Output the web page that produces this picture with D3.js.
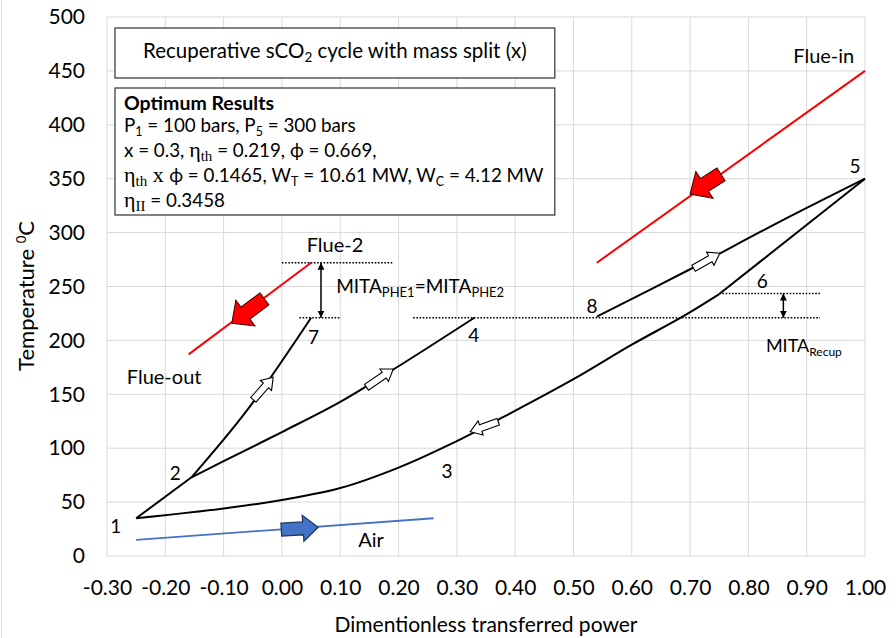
<!DOCTYPE html>
<html>
<head>
<meta charset="utf-8">
<script src="https://cdn.jsdelivr.net/npm/d3@7"></script>
<style>
  body { margin: 0; background: #fff; }
  svg { display: block; font-family: Lato, "Open Sans", sans-serif; }
</style>
</head>
<body>
<div id="chart"></div>
<script>
// axis ticks
const xTicks = [-0.3, -0.2, -0.1, 0, 0.1, 0.2, 0.3, 0.4, 0.5, 0.6, 0.7, 0.8, 0.9, 1.0];
const yTicks = [0, 50, 100, 150, 200, 250, 300, 350, 400, 450, 500];

// sCO2 streams [power, temperature]
const turbineOut56 = [[1.0, 350], [0.75, 243]];
const recupHot61 = [[0.75, 243], [0.69, 223], [0.6, 196], [0.5, 164], [0.38, 129],
  [0.29, 104], [0.2, 82], [0.1, 63], [0, 52], [-0.1, 44], [-0.25, 35]];
const comp12 = [[-0.25, 35], [-0.155, 73]];
const branch27 = [[-0.155, 73], [-0.06, 135], [0.05, 221]];
const branch24 = [[-0.155, 73], [-0.1, 88], [0, 115], [0.1, 143], [0.2, 176], [0.33, 221]];
const heater85 = [[0.54, 222], [0.7, 266], [0.85, 309], [1.0, 350]];

// flue gas and air
const flueIn = [[0.54, 272], [1.0, 450]];
const flueOut = [[-0.16, 187], [0.05, 272]];
const air = [[-0.25, 15], [0.26, 35]];

// dotted pinch levels [x0, x1, T]
const levels = [[0.0, 0.19, 272], [0.03, 0.10, 221], [0.225, 0.923, 221], [0.75, 0.923, 243.5]];
// double arrows [x, T0, T1]
const gaps = [[0.067, 272, 221], [0.86, 243.5, 221]];

// block arrows [xTail, TTail, xTip, TTip]
const hollowArrows = [[-0.049, 144.9, -0.015, 165.9], [0.145, 156.5, 0.191, 173.5],
  [0.371, 124.6, 0.323, 115.3], [0.706, 266.9, 0.751, 280.8]];
const flueArrows = [[0.753, 354, 0.70, 335.8], [-0.030, 238.5, -0.086, 215.9]];
const airArrows = [[-0.001, 24.4, 0.062, 26.6]];

const pointLabels = [["1", -0.285, 21], ["2", -0.183, 70.5], ["3", 0.283, 72.4], ["4", 0.329, 198.8],
  ["5", 0.983, 355], ["6", 0.824, 249], ["7", 0.054, 196.7], ["8", 0.532, 225]];
const streamLabels = [["Flue-in", 0.877, 457.5], ["Flue-2", 0.0425, 282.3], ["Flue-out", -0.266, 160], ["Air", 0.131, 8.6]];

const width = 896, height = 638;
const marginLeft = 107, marginRight = 31, marginTop = 17, marginBottom = 82;

const svg = d3.select("#chart").append("svg")
  .attr("width", width)
  .attr("height", height)
  .attr("viewBox", [0, 0, width, height]);

const x = d3.scaleLinear().domain([-0.3, 1.0]).range([marginLeft, width - marginRight]);
const y = d3.scaleLinear().domain([0, 500]).range([height - marginBottom, marginTop]);

svg.append("line")
  .attr("x1", 1.5).attr("x2", 1.5).attr("y1", 0).attr("y2", height)
  .attr("stroke", "#d9d9d9");

// grid
svg.append("g").attr("stroke", "#d9d9d9").attr("stroke-width", 1)
  .selectAll("line").data(xTicks).join("line")
  .attr("x1", d => x(d)).attr("x2", d => x(d))
  .attr("y1", y(0)).attr("y2", y(500));
svg.append("g").attr("stroke", "#d9d9d9").attr("stroke-width", 1)
  .selectAll("line").data(yTicks).join("line")
  .attr("x1", x(-0.3)).attr("x2", x(1.0))
  .attr("y1", d => y(d)).attr("y2", d => y(d));

// axes
const xAxis = svg.append("g")
  .attr("transform", `translate(0,${y(0)})`)
  .call(d3.axisBottom(x).tickValues(xTicks).tickFormat(d => d.toFixed(2)).tickSize(0).tickPadding(24));
const yAxis = svg.append("g")
  .attr("transform", `translate(${x(-0.3)},0)`)
  .call(d3.axisLeft(y).tickValues(yTicks).tickFormat(d => d).tickSize(0).tickPadding(22));
[xAxis, yAxis].forEach(a => {
  a.select(".domain").remove();
  a.selectAll("text").attr("font-family", "Lato").attr("font-size", 21).attr("fill", "#000");
});

svg.append("text")
  .attr("x", (x(-0.3) + x(1.0)) / 2).attr("y", 632)
  .attr("text-anchor", "middle").attr("font-size", 21)
  .text("Dimentionless transferred power");

const yTitle = svg.append("text")
  .attr("transform", "translate(34,296) rotate(-90)")
  .attr("text-anchor", "middle").attr("font-size", 22);
yTitle.append("tspan").text("Temperature ");
yTitle.append("tspan").attr("font-size", 13).attr("dy", -8).text("0");
yTitle.append("tspan").attr("dy", 8).text("C");

// lines
const line = d3.line().x(d => x(d[0])).y(d => y(d[1]));
const smooth = d3.line().x(d => x(d[0])).y(d => y(d[1])).curve(d3.curveCatmullRom);

svg.append("path").datum(air).attr("d", line).attr("fill", "none").attr("stroke", "#4472c4").attr("stroke-width", 1.8);
[flueIn, flueOut].forEach(s => {
  svg.append("path").datum(s).attr("d", line).attr("fill", "none").attr("stroke", "#ff0000").attr("stroke-width", 2);
});
[turbineOut56, recupHot61, comp12, branch27, branch24, heater85].forEach(s => {
  svg.append("path").datum(s).attr("d", smooth).attr("fill", "none").attr("stroke", "#000").attr("stroke-width", 2);
});

// dotted levels
svg.append("g").selectAll("line").data(levels).join("line")
  .attr("x1", d => x(d[0])).attr("x2", d => x(d[1]))
  .attr("y1", d => y(d[2])).attr("y2", d => y(d[2]))
  .attr("stroke", "#000").attr("stroke-width", 1.6).attr("stroke-dasharray", "1.6,1.6");

// double arrows
const defs = svg.append("defs");
defs.append("marker").attr("id", "tri")
  .attr("viewBox", "0 0 10 10").attr("refX", 10).attr("refY", 5)
  .attr("markerWidth", 7).attr("markerHeight", 7).attr("markerUnits", "userSpaceOnUse")
  .attr("orient", "auto-start-reverse")
  .append("path").attr("d", "M0,0L10,5L0,10Z").attr("fill", "#000");
svg.append("g").selectAll("line").data(gaps).join("line")
  .attr("x1", d => x(d[0])).attr("x2", d => x(d[0]))
  .attr("y1", d => y(d[1])).attr("y2", d => y(d[2]))
  .attr("stroke", "#000").attr("stroke-width", 1.5)
  .attr("marker-start", "url(#tri)").attr("marker-end", "url(#tri)");

// block arrows
function blockArrow(d, shaft, head, headLen) {
  const x0 = x(d[0]), y0 = y(d[1]), x1 = x(d[2]), y1 = y(d[3]);
  const L = Math.hypot(x1 - x0, y1 - y0);
  const a = Math.atan2(y1 - y0, x1 - x0) * 180 / Math.PI;
  const pts = [[0, -shaft / 2], [L - headLen, -shaft / 2], [L - headLen, -head / 2], [L, 0],
    [L - headLen, head / 2], [L - headLen, shaft / 2], [0, shaft / 2]];
  return { pts: pts.map(p => p.join(",")).join(" "), t: `translate(${x0},${y0}) rotate(${a})` };
}
function drawArrows(data, shaft, head, headLen, fill, stroke, sw) {
  svg.append("g").selectAll("polygon").data(data).join("polygon")
    .each(function (d) {
      const b = blockArrow(d, shaft, head, headLen);
      d3.select(this).attr("points", b.pts).attr("transform", b.t);
    })
    .attr("fill", fill).attr("stroke", stroke).attr("stroke-width", sw).attr("stroke-linejoin", "miter");
}
drawArrows(hollowArrows, 7, 15, 11, "#fff", "#000", 1.1);
drawArrows(flueArrows, 15, 32, 17, "#ff0000", "#3a0000", 1);
drawArrows(airArrows, 13, 26, 15, "#4472c4", "#1f3864", 1.3);

// labels
svg.append("g").selectAll("text").data(pointLabels).join("text")
  .attr("x", d => x(d[1])).attr("y", d => y(d[2]))
  .attr("text-anchor", "middle").attr("font-size", 19).text(d => d[0]);
svg.append("g").selectAll("text").data(streamLabels).join("text")
  .attr("x", d => x(d[1])).attr("y", d => y(d[2]))
  .attr("font-size", 20).text(d => d[0]);

function subText(xv, yv, parts, size, subSize) {
  const t = svg.append("text").attr("x", x(xv)).attr("y", y(yv)).attr("font-size", size);
  parts.forEach(p => {
    if (p.sub) t.append("tspan").attr("font-size", subSize).attr("dy", 4).text(p.s);
    else t.append("tspan").attr("dy", p.after ? -4 : 0).text(p.s);
  });
}
subText(0.093, 243.7, [{ s: "MITA" }, { s: "PHE1", sub: true }, { s: "=MITA", after: true }, { s: "PHE2", sub: true }], 19, 13);
subText(0.83, 189.5, [{ s: "MITA" }, { s: "Recup", sub: true }], 18, 12);

// title box
const bx0 = x(-0.3) + 8, bx1 = x(0.468);
svg.append("rect").attr("x", bx0).attr("y", 28).attr("width", bx1 - bx0).attr("height", 50)
  .attr("fill", "#fff").attr("stroke", "#404040").attr("stroke-width", 1.3);
const tt = svg.append("text").attr("x", (bx0 + bx1) / 2).attr("y", 58).attr("text-anchor", "middle").attr("font-size", 20.5);
tt.append("tspan").text("Recuperative sCO");
tt.append("tspan").attr("font-size", 13.5).attr("dy", 4).text("2");
tt.append("tspan").attr("dy", -4).text(" cycle with mass split (x)");

svg.append("rect").attr("x", bx0).attr("y", 88).attr("width", bx1 - bx0).attr("height", 127)
  .attr("fill", "#fff").attr("stroke", "#404040").attr("stroke-width", 1.3);

const serif = "Liberation Serif, DejaVu Serif, serif";
const resultLines = [
  [{ s: "Optimum  Results", bold: true }],
  [{ s: "P" }, { s: "1", sub: true }, { s: " = 100 bars, P" }, { s: "5", sub: true }, { s: " = 300 bars" }],
  [{ s: "x = 0.3, " }, { s: "η", serif: true }, { s: "th", sub: true, serif: true }, { s: " = 0.219, ϕ = 0.669," }],
  [{ s: "η", serif: true }, { s: "th", sub: true, serif: true }, { s: " x ", serif: true }, { s: "ϕ = 0.1465, W" }, { s: "T", sub: true },
    { s: " = 10.61 MW, W" }, { s: "C", sub: true }, { s: " = 4.12 MW" }],
  [{ s: "η", serif: true }, { s: "II", sub: true, serif: true }, { s: " = 0.3458" }]
];
const lineY = [110, 132, 157, 182, 207];
resultLines.forEach((parts, i) => {
  const t = svg.append("text").attr("x", bx0 + 9).attr("y", lineY[i]).attr("font-size", 18.8);
  let shifted = false;
  parts.forEach(p => {
    const sp = t.append("tspan").text(p.s);
    if (p.bold) sp.attr("font-weight", "bold").attr("font-size", 19.5);
    if (p.serif) sp.attr("font-family", serif).attr("font-size", p.sub ? 15 : 22);
    if (p.sub) {
      if (!shifted) sp.attr("dy", 4);
      if (!p.serif) sp.attr("font-size", 12.5);
      shifted = true;
    } else if (shifted) {
      sp.attr("dy", -4);
      shifted = false;
    }
  });
});
</script>
</body>
</html>
